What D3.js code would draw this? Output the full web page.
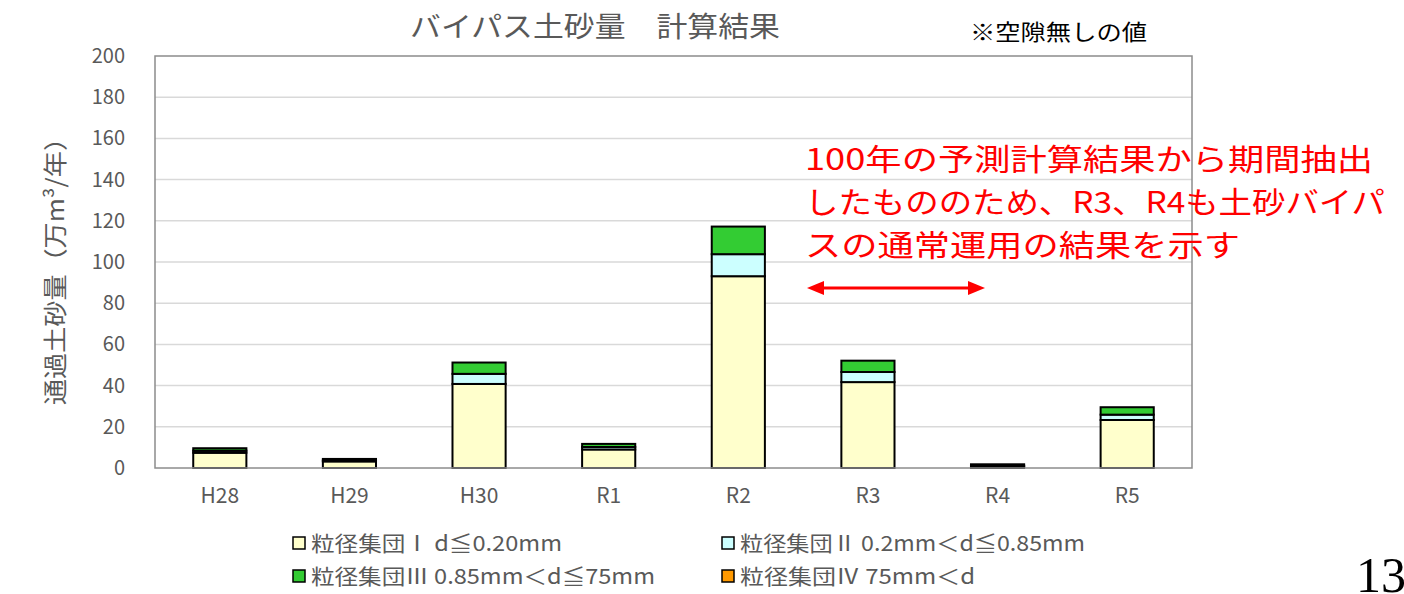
<!DOCTYPE html>
<html><head><meta charset="utf-8">
<script src="https://cdn.jsdelivr.net/npm/d3@7"></script>
<style>body{margin:0;background:#fff;} svg{display:block;}</style>
</head><body>
<svg id="c" width="1404" height="594"></svg>
<script>
const categories = ["H28","H29","H30","R1","R2","R3","R4","R5"];
const group1 = [7.4, 3.2, 40.8, 9.0, 93.1, 41.7, 0.7, 23.3];
const group2 = [1.0, 0.5, 4.9, 1.2, 10.7, 4.9, 0.4, 2.6];
const group3 = [1.2, 0.7, 5.5, 1.5, 13.4, 5.5, 0.7, 3.6];
const group4 = [0, 0, 0, 0, 0, 0, 0, 0];
const seriesNames = ["粒径集団Ⅰ d≦0.20mm","粒径集団Ⅱ 0.2mm＜d≦0.85mm","粒径集団Ⅲ 0.85mm＜d≦75mm","粒径集団Ⅳ 75mm＜d"];
const seriesColors = ["#FFFFCC","#CCFFFF","#33CC33","#FF9900"];
const yTicks = [0,20,40,60,80,100,120,140,160,180,200];
const title = "バイパス土砂量　計算結果";
const note = "※空隙無しの値";
const yLabel = "通過土砂量（万m³/年）";
const annotation = ["100年の予測計算結果から期間抽出","したもののため、R3、R4も土砂バイパ","スの通常運用の結果を示す"];

const svg = d3.select("#c");
const L=155, R=1192, T=56, B=468;
const keys = ["g1","g2","g3","g4"];
const rows = categories.map((c,i)=>({cat:c,g1:group1[i],g2:group2[i],g3:group3[i],g4:group4[i]}));
const x = d3.scaleBand().domain(categories).range([L,R]).paddingInner(0.59).paddingOuter(0.295);
const y = d3.scaleLinear().domain([0,200]).range([B,T]);
const gray = "#595959";
const font = "'Noto Sans CJK JP','Noto Sans',sans-serif";

// grid
svg.append("g").selectAll("line").data(yTicks.filter(t=>t>0&&t<200)).join("line")
  .attr("x1",L).attr("x2",R).attr("y1",d=>y(d)).attr("y2",d=>y(d))
  .attr("stroke","#d9d9d9").attr("stroke-width",1.5);

// bars
const stack = d3.stack().keys(keys)(rows);
stack.forEach((s,si)=>{
  svg.append("g").selectAll("rect").data(s.filter(d=>d[1]-d[0]>0)).join("rect")
    .attr("x",d=>x(d.data.cat)).attr("width",x.bandwidth())
    .attr("y",d=>y(d[1])).attr("height",d=>y(d[0])-y(d[1]))
    .attr("fill",seriesColors[si]).attr("stroke","#000").attr("stroke-width",2);
});

// frame
svg.append("rect").attr("x",L).attr("y",T).attr("width",R-L).attr("height",B-T)
  .attr("fill","none").attr("stroke","#8c8c8c").attr("stroke-width",1.5);

// y axis
const ya = svg.append("g").attr("transform",`translate(${L},0)`)
  .call(d3.axisLeft(y).tickValues(yTicks).tickSize(0).tickPadding(30));
ya.select(".domain").remove();
ya.selectAll("text").attr("fill",gray).style("font-size","20px").style("font-family",font);

// x axis
const xa = svg.append("g").attr("transform",`translate(0,${B})`)
  .call(d3.axisBottom(x).tickSize(0).tickPadding(20));
xa.select(".domain").remove();
xa.selectAll("text").attr("fill",gray).style("font-size","21px").style("font-family",font);

// title
svg.append("text").attr("x",595).attr("y",37).attr("text-anchor","middle")
  .attr("font-size",28).attr("font-family",font).attr("fill",gray)
  .attr("textLength",370).attr("lengthAdjust","spacingAndGlyphs").text(title);
svg.append("text").attr("x",970).attr("y",40)
  .attr("font-size",22).attr("font-family",font).attr("fill","#000")
  .attr("textLength",177).attr("lengthAdjust","spacingAndGlyphs").text(note);

// y label
svg.append("text").attr("transform","translate(64,265) rotate(-90)").attr("text-anchor","middle")
  .attr("font-size",24).attr("font-family",font).attr("fill",gray)
  .attr("textLength",280).attr("lengthAdjust","spacingAndGlyphs").text(yLabel);

// annotation
const annW=[568,580,435];
annotation.forEach((t,i)=>{
  svg.append("text").attr("x",805).attr("y",170+i*43)
    .attr("font-size",29.5).attr("font-family",font).attr("fill","#FF0000")
    .attr("textLength",annW[i]).attr("lengthAdjust","spacingAndGlyphs").text(t);
});
// arrow
const ay=288, ax1=807, ax2=985;
svg.append("line").attr("x1",ax1+10).attr("x2",ax2-10).attr("y1",ay).attr("y2",ay).attr("stroke","#FF0000").attr("stroke-width",3);
svg.append("path").attr("d",`M${ax1},${ay}L${ax1+17},${ay-7}L${ax1+17},${ay+7}Z`).attr("fill","#FF0000");
svg.append("path").attr("d",`M${ax2},${ay}L${ax2-17},${ay-7}L${ax2-17},${ay+7}Z`).attr("fill","#FF0000");

// legend
const legPos=[[293,543,251],[722,543,345],[293,576,344],[722,576,235]];
seriesNames.forEach((n,i)=>{
  const [lx,ly,w]=legPos[i];
  svg.append("rect").attr("x",lx).attr("y",ly-6).attr("width",12).attr("height",12)
    .attr("fill",seriesColors[i]).attr("stroke","#000").attr("stroke-width",1.5);
  svg.append("text").attr("x",lx+18).attr("y",ly+8)
    .attr("font-size",21).attr("font-family",font).attr("fill",gray)
    .attr("textLength",w).attr("lengthAdjust","spacingAndGlyphs").text(n);
});

// page number
svg.append("text").attr("x",1356).attr("y",592).attr("font-size",50)
  .attr("font-family","'Liberation Serif','DejaVu Serif',serif").attr("fill","#000").text("13");
</script>
</body></html>
